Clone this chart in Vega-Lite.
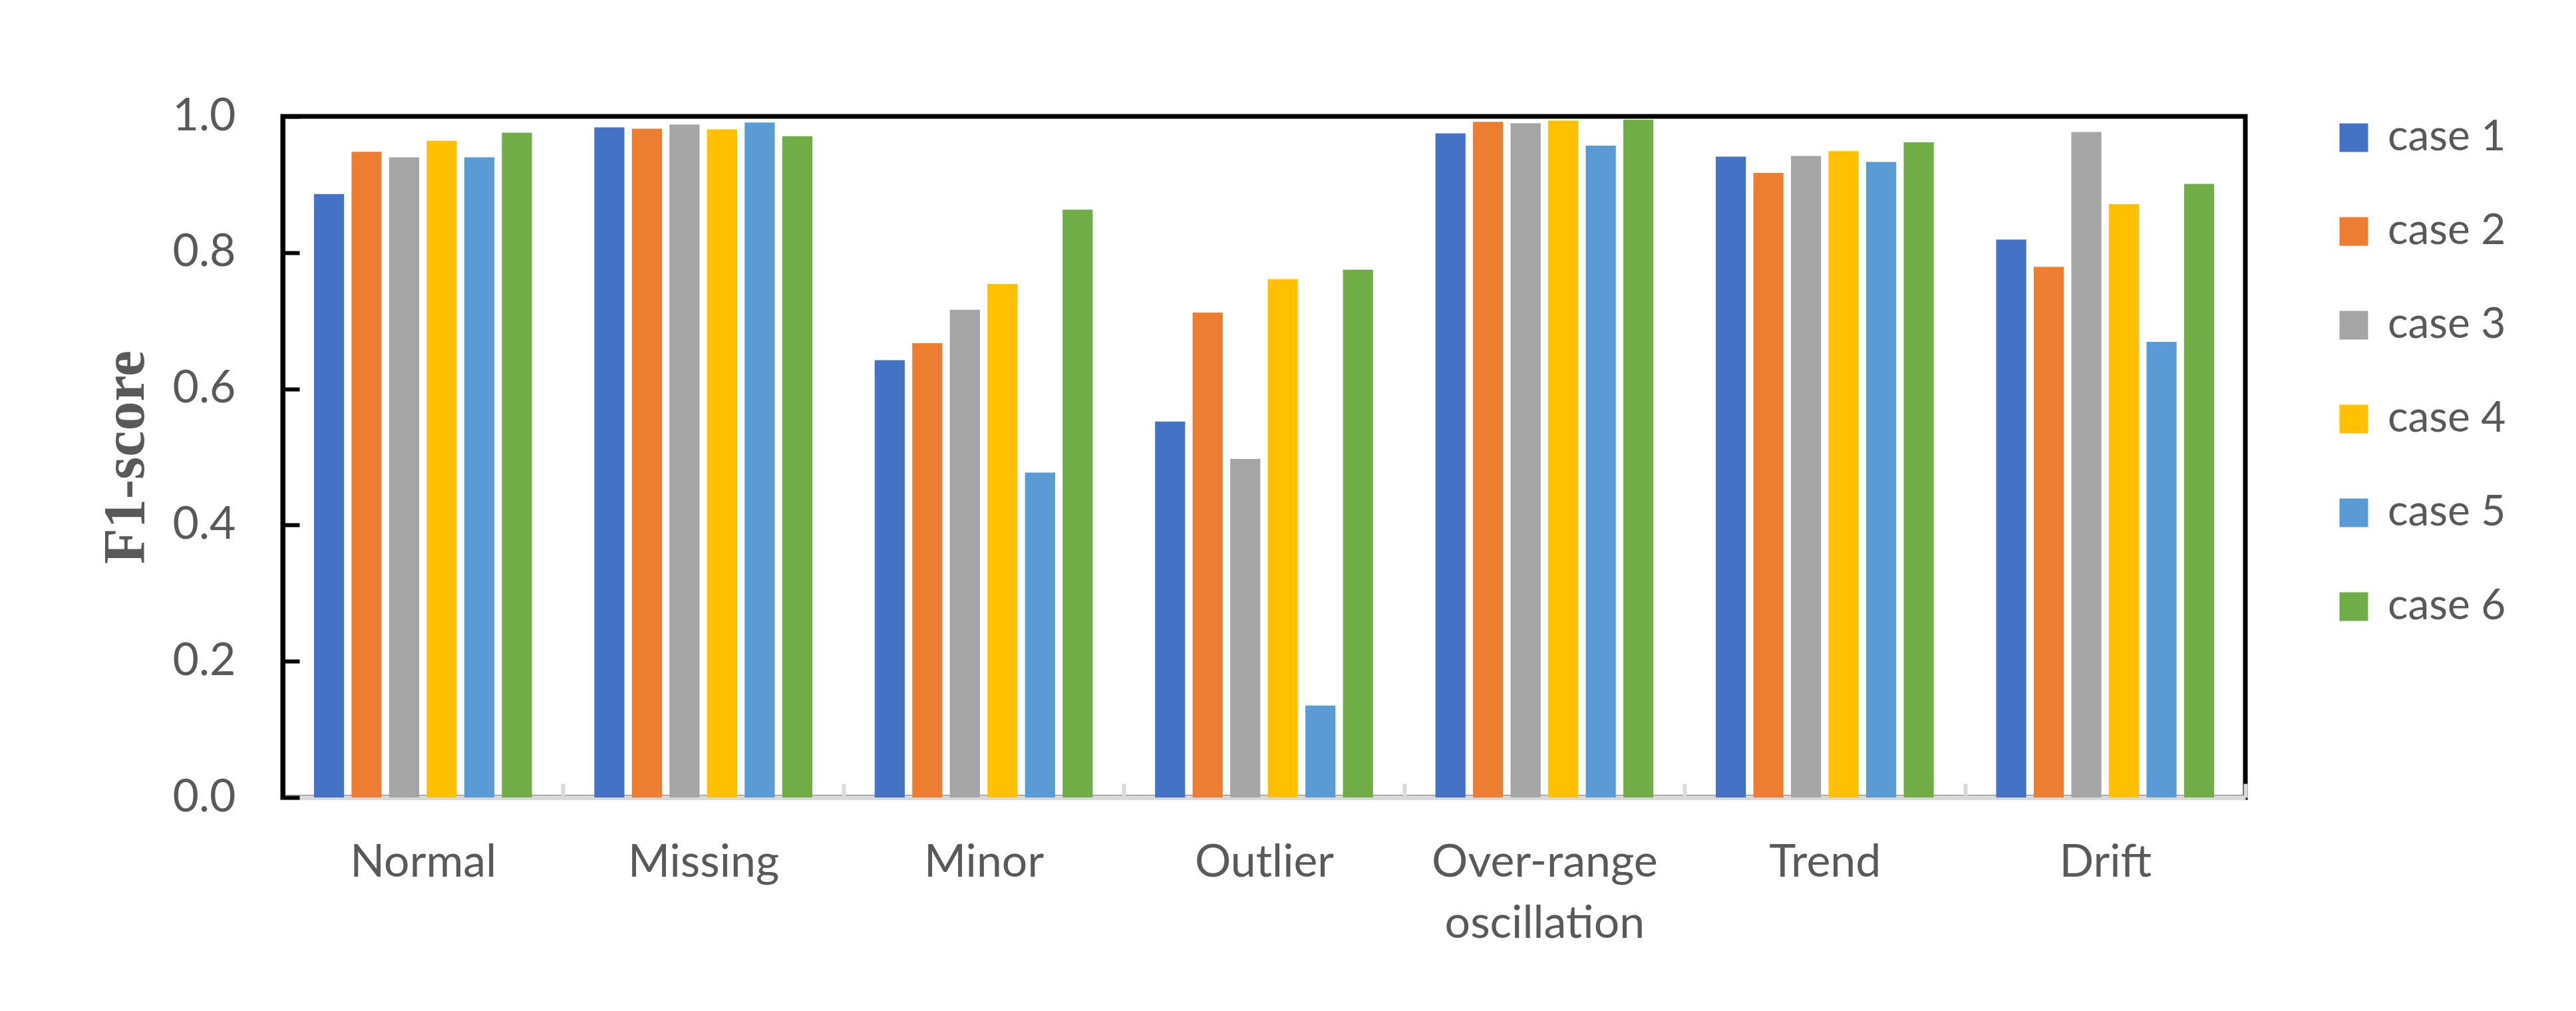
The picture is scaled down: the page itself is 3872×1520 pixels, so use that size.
{
  "$schema": "https://vega.github.io/schema/vega-lite/v6.json",
  "width": 2950,
  "height": 1024,
  "autosize": {"type": "none"},
  "padding": {"left": 425, "top": 175, "right": 497, "bottom": 321},
  "background": "white",
  "config": {
    "view": {"stroke": "black", "strokeWidth": 7},
    "font": "Lato"
  },
  "data": {
    "values": [
      {"type": "Normal", "case": "case 1", "value": 0.886},
      {"type": "Normal", "case": "case 2", "value": 0.948},
      {"type": "Normal", "case": "case 3", "value": 0.940},
      {"type": "Normal", "case": "case 4", "value": 0.964},
      {"type": "Normal", "case": "case 5", "value": 0.940},
      {"type": "Normal", "case": "case 6", "value": 0.976},
      {"type": "Missing", "case": "case 1", "value": 0.984},
      {"type": "Missing", "case": "case 2", "value": 0.982},
      {"type": "Missing", "case": "case 3", "value": 0.988},
      {"type": "Missing", "case": "case 4", "value": 0.981},
      {"type": "Missing", "case": "case 5", "value": 0.991},
      {"type": "Missing", "case": "case 6", "value": 0.971},
      {"type": "Minor", "case": "case 1", "value": 0.642},
      {"type": "Minor", "case": "case 2", "value": 0.667},
      {"type": "Minor", "case": "case 3", "value": 0.716},
      {"type": "Minor", "case": "case 4", "value": 0.754},
      {"type": "Minor", "case": "case 5", "value": 0.477},
      {"type": "Minor", "case": "case 6", "value": 0.863},
      {"type": "Outlier", "case": "case 1", "value": 0.552},
      {"type": "Outlier", "case": "case 2", "value": 0.712},
      {"type": "Outlier", "case": "case 3", "value": 0.497},
      {"type": "Outlier", "case": "case 4", "value": 0.761},
      {"type": "Outlier", "case": "case 5", "value": 0.135},
      {"type": "Outlier", "case": "case 6", "value": 0.775},
      {"type": "Over-range oscillation", "case": "case 1", "value": 0.975},
      {"type": "Over-range oscillation", "case": "case 2", "value": 0.992},
      {"type": "Over-range oscillation", "case": "case 3", "value": 0.990},
      {"type": "Over-range oscillation", "case": "case 4", "value": 0.994},
      {"type": "Over-range oscillation", "case": "case 5", "value": 0.957},
      {"type": "Over-range oscillation", "case": "case 6", "value": 0.995},
      {"type": "Trend", "case": "case 1", "value": 0.941},
      {"type": "Trend", "case": "case 2", "value": 0.917},
      {"type": "Trend", "case": "case 3", "value": 0.942},
      {"type": "Trend", "case": "case 4", "value": 0.949},
      {"type": "Trend", "case": "case 5", "value": 0.933},
      {"type": "Trend", "case": "case 6", "value": 0.962},
      {"type": "Drift", "case": "case 1", "value": 0.819},
      {"type": "Drift", "case": "case 2", "value": 0.779},
      {"type": "Drift", "case": "case 3", "value": 0.977},
      {"type": "Drift", "case": "case 4", "value": 0.871},
      {"type": "Drift", "case": "case 5", "value": 0.669},
      {"type": "Drift", "case": "case 6", "value": 0.901}
    ]
  },
  "mark": {"type": "bar"},
  "encoding": {
    "x": {
      "field": "type",
      "type": "nominal",
      "sort": ["Normal", "Missing", "Minor", "Outlier", "Over-range oscillation", "Trend", "Drift"],
      "scale": {"paddingInner": 0, "paddingOuter": 0},
      "axis": {
        "title": null,
        "labelAngle": 0,
        "labelFont": "Lato",
        "labelFontSize": 68,
        "labelColor": "#595959",
        "labelLimit": 1000,
        "labelExpr": "split(datum.label, ' ')",
        "labelLineHeight": 92,
        "labelPadding": 85,
        "tickBand": "extent",
        "tickSize": -21,
        "tickWidth": 6,
        "tickColor": "#d9d9d9",
        "domainColor": "#d9d9d9",
        "domainWidth": 7,
        "grid": false
      }
    },
    "xOffset": {
      "field": "case",
      "type": "nominal",
      "scale": {"paddingInner": 0.2, "paddingOuter": 0.83}
    },
    "y": {
      "field": "value",
      "type": "quantitative",
      "scale": {"domain": [0, 1]},
      "axis": {
        "title": "F1-score",
        "titleFont": "Liberation Serif",
        "titleFontWeight": "bold",
        "titleFontSize": 88,
        "titleColor": "#595959",
        "titlePadding": 26,
        "values": [0, 0.2, 0.4, 0.6, 0.8, 1],
        "format": ".1f",
        "labelFont": "Lato",
        "labelFontSize": 68,
        "labelColor": "#595959",
        "labelLimit": 1000,
        "labelPadding": 96,
        "tickSize": -25,
        "tickWidth": 6,
        "tickColor": "black",
        "domainColor": "black",
        "domainWidth": 7,
        "grid": false
      }
    },
    "color": {
      "field": "case",
      "type": "nominal",
      "scale": {"range": ["#4472C4", "#ED7D31", "#A5A5A5", "#FFC000", "#5B9BD5", "#70AD47"]},
      "legend": {
        "title": null,
        "orient": "right",
        "offset": 131,
        "symbolType": "square",
        "symbolSize": 1849,
        "symbolStrokeWidth": 0,
        "symbolOpacity": 1,
        "labelFont": "Lato",
        "labelFontSize": 64,
        "labelColor": "#595959",
        "labelLimit": 1000,
        "labelOffset": 19,
        "rowPadding": 77
      }
    }
  }
}
